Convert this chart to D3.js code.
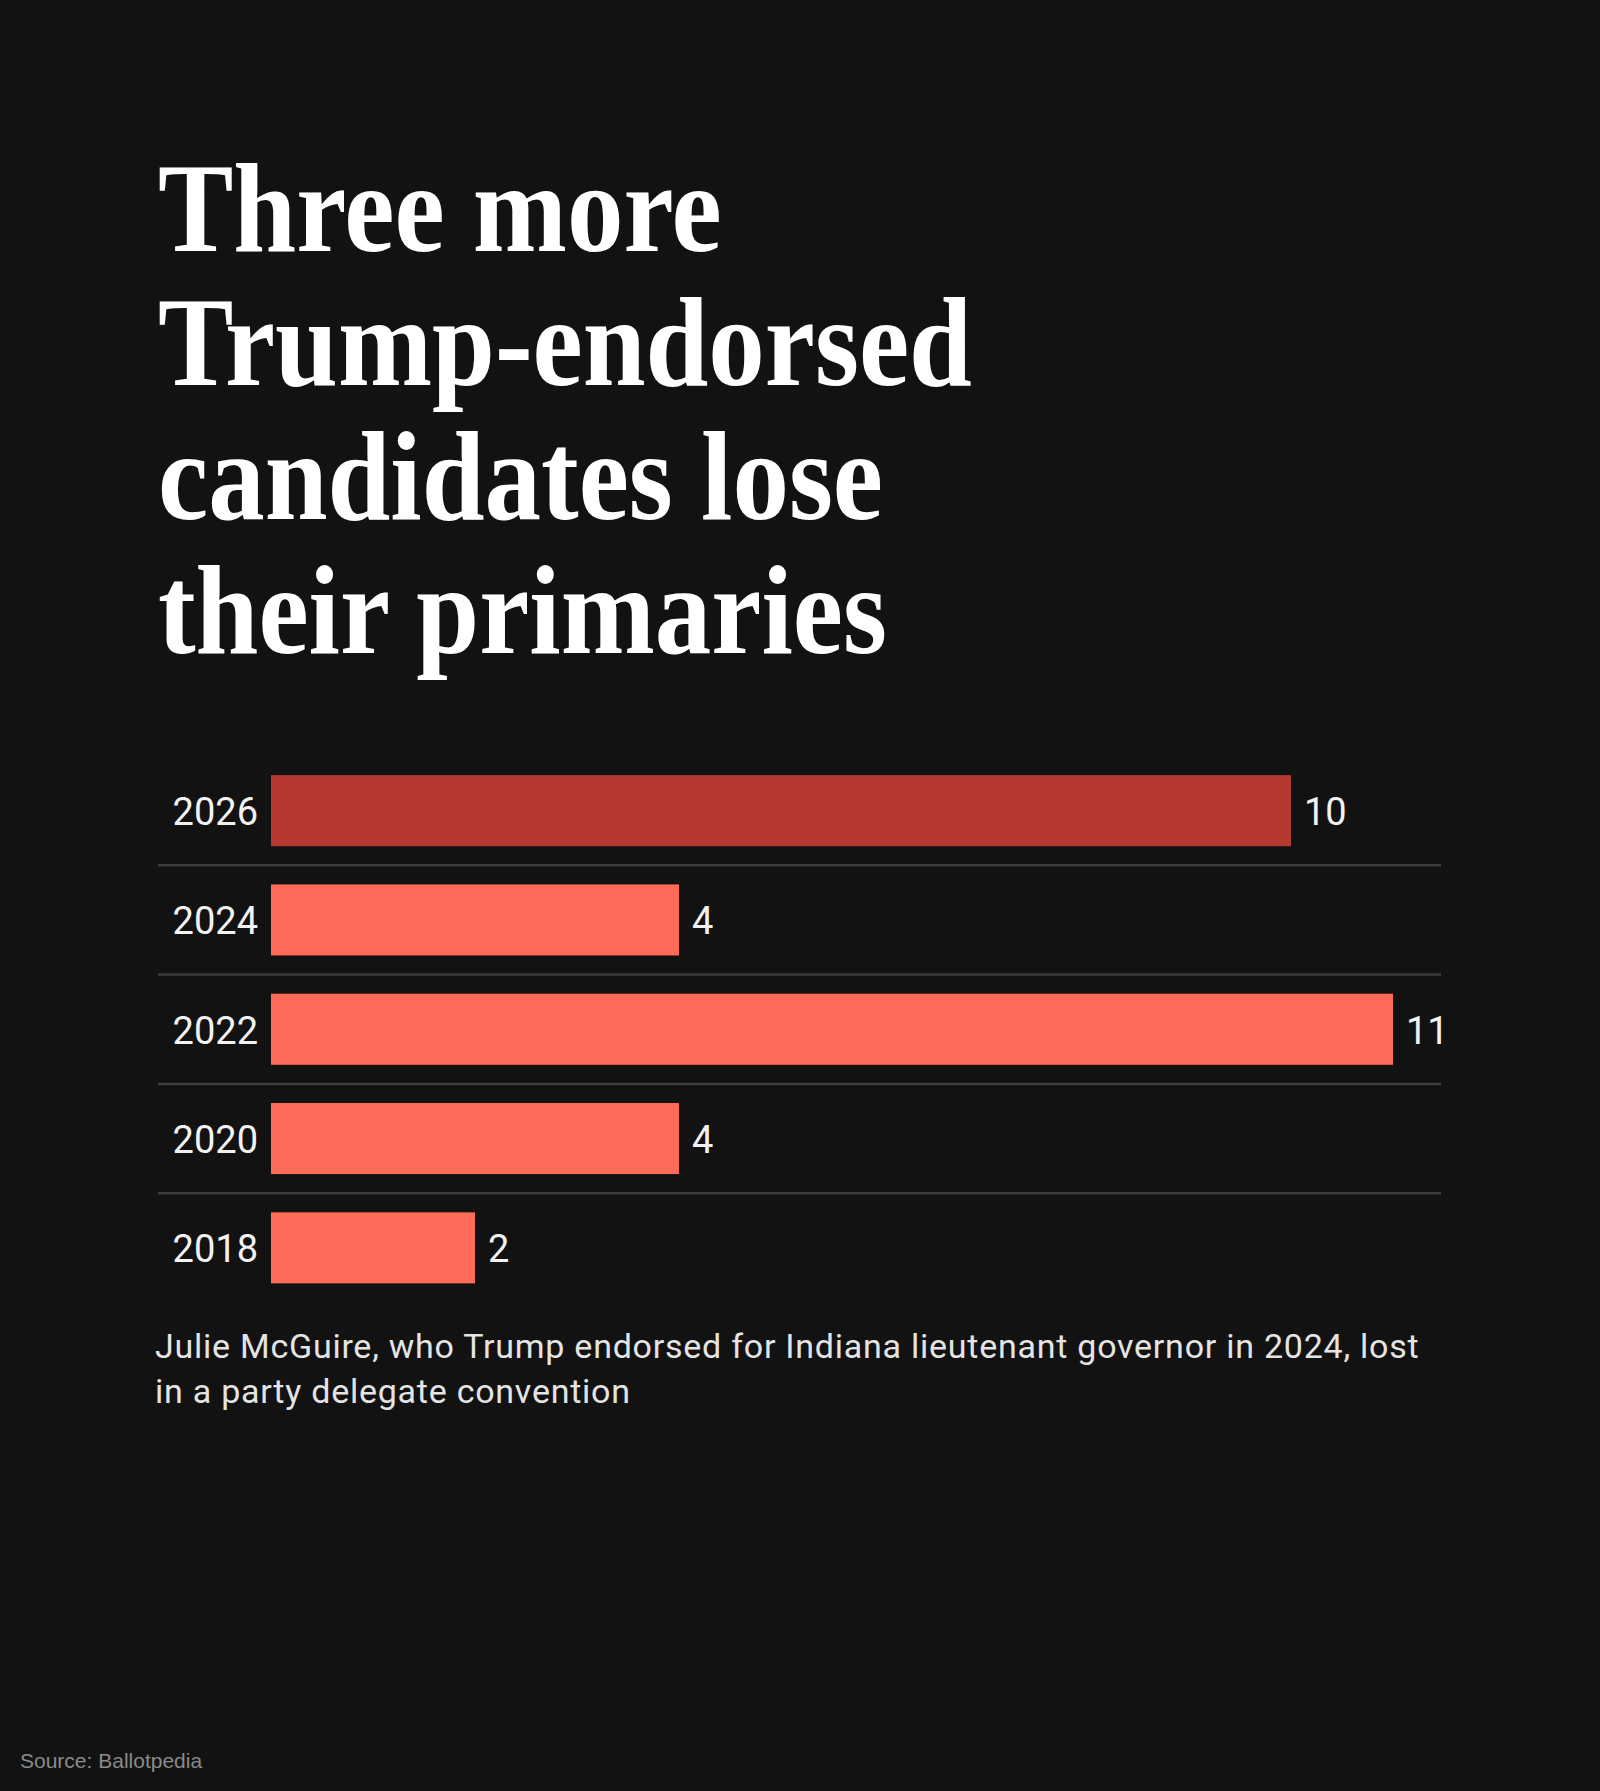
<!DOCTYPE html>
<html>
<head>
<meta charset="utf-8">
<script src="https://cdn.jsdelivr.net/npm/d3@7"></script>
<style>
  html, body { margin: 0; padding: 0; background: #121212; }
  svg { display: block; }
</style>
</head>
<body>
<div id="chart"></div>
<script>
// Trump-endorsed primary losses, by cycle

const years = ['2026', '2024', '2022', '2020', '2018'];
const losses = [10, 4, 11, 4, 2];
const highlightYear = '2026';

const titleLines = ['Three more', 'Trump-endorsed', 'candidates lose', 'their primaries'];
const noteLines = [
    'Julie McGuire, who Trump endorsed for Indiana lieutenant governor in 2024, lost',
    'in a party delegate convention'
];
const sourceText = 'Source: Ballotpedia';

const width = 1600;
const height = 1791;

const svg = d3.select('#chart')
    .append('svg')
    .attr('width', width)
    .attr('height', height);

svg.append('rect')
    .attr('width', width)
    .attr('height', height)
    .attr('fill', '#121212');

// Title – serif, slightly condensed to match headline face
const title = svg.append('g');
const titleText = title.selectAll('text')
    .data(titleLines)
    .join('text')
    .attr('x', 0)
    .attr('y', (d, i) => 251 + i * 134)
    .attr('fill', '#ffffff')
    .attr('font-family', '"Liberation Serif", "DejaVu Serif", serif')
    .attr('font-weight', 700)
    .attr('font-size', '127px')
    .text(d => d);

const widest = titleText.nodes()[1].getComputedTextLength();
const sx = 814 / widest;
title.attr('transform', `translate(158,0) scale(${sx},1)`);

// Bars
const data = years.map((y, i) => ({ year: y, value: losses[i] }));

const x = d3.scaleLinear()
    .domain([0, 11])
    .range([271, 1393]);

const y = d3.scaleBand()
    .domain(years)
    .range([756, 1302.5])
    .paddingInner(0.35)
    .paddingOuter(0.175);

const sepGap = y.step() * y.paddingInner() / 2;

svg.append('g')
    .selectAll('line')
    .data(years.slice(0, -1))
    .join('line')
    .attr('x1', 158)
    .attr('x2', 1441)
    .attr('y1', d => y(d) + y.bandwidth() + sepGap)
    .attr('y2', d => y(d) + y.bandwidth() + sepGap)
    .attr('stroke', '#3c3c3c')
    .attr('stroke-width', 2.5);

svg.append('g')
    .selectAll('rect')
    .data(data)
    .join('rect')
    .attr('x', x(0))
    .attr('y', d => y(d.year))
    .attr('width', d => x(d.value) - x(0))
    .attr('height', y.bandwidth())
    .attr('fill', d => d.year === highlightYear ? '#b5392e' : '#ff6b57');

const labelFont = 'Roboto, "Noto Sans", sans-serif';

svg.append('g')
    .selectAll('text')
    .data(data)
    .join('text')
    .attr('x', 258)
    .attr('y', d => y(d.year) + y.bandwidth() / 2)
    .attr('dy', '0.38em')
    .attr('text-anchor', 'end')
    .attr('fill', '#f2f2f2')
    .attr('font-family', labelFont)
    .attr('font-size', '38px')
    .text(d => d.year);

svg.append('g')
    .selectAll('text')
    .data(data)
    .join('text')
    .attr('x', d => x(d.value) + 13)
    .attr('y', d => y(d.year) + y.bandwidth() / 2)
    .attr('dy', '0.38em')
    .attr('fill', '#f2f2f2')
    .attr('font-family', labelFont)
    .attr('font-size', '38px')
    .text(d => d.value);

// Note
svg.append('g')
    .selectAll('text')
    .data(noteLines)
    .join('text')
    .attr('x', 155)
    .attr('y', (d, i) => 1358 + i * 45)
    .attr('fill', '#e4e4e4')
    .attr('font-family', labelFont)
    .attr('font-size', '34px')
    .attr('letter-spacing', '0.75px')
    .text(d => d);

// Source
svg.append('text')
    .attr('x', 20)
    .attr('y', 1768)
    .attr('fill', '#8a8a8a')
    .attr('font-family', '"Liberation Sans", Arial, sans-serif')
    .attr('font-size', '21px')
    .text(sourceText);
</script>
</body>
</html>
